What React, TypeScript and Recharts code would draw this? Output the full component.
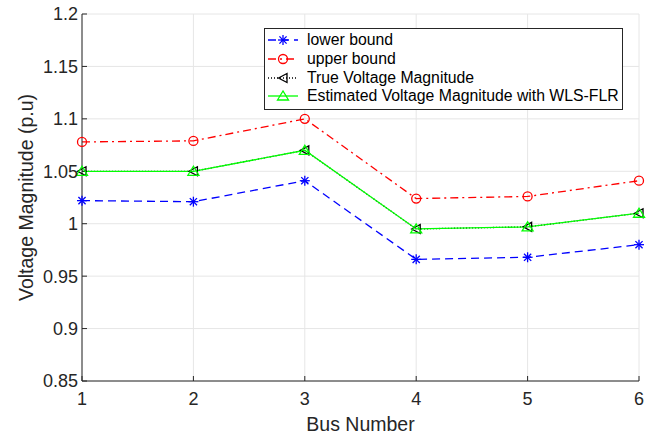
// Voltage magnitude per bus: bounds, true value and WLS-FLR estimate.
import React from "react";
import { CartesianGrid, Legend, Line, LineChart, XAxis, YAxis } from "recharts";

const FONT = "'Liberation Sans', Arial, Helvetica, sans-serif";
const AXIS = "#262626";

const buses = [1, 2, 3, 4, 5, 6];
const lowerBound = [1.022, 1.021, 1.041, 0.966, 0.968, 0.98];
const upperBound = [1.078, 1.079, 1.1, 1.024, 1.026, 1.041];
const trueVm = [1.05, 1.05, 1.07, 0.995, 0.997, 1.01];
const estimatedVm = [1.05, 1.05, 1.07, 0.995, 0.997, 1.01];
const yTicks = [0.85, 0.9, 0.95, 1, 1.05, 1.1, 1.15, 1.2];

const data = buses.map((bus, i) => ({
  bus,
  lower: lowerBound[i],
  upper: upperBound[i],
  truth: trueVm[i],
  est: estimatedVm[i],
}));

type Marker = "star" | "circle" | "left" | "up";

const series: { key: string; name: string; color: string; dash?: string; marker: Marker }[] = [
  { key: "lower", name: "lower bound", color: "#0000ff", dash: "8 5", marker: "star" },
  { key: "upper", name: "upper bound", color: "#ff0000", dash: "8 4 2 4", marker: "circle" },
  { key: "truth", name: "True Voltage Magnitude", color: "#000000", dash: "1 2", marker: "left" },
  { key: "est", name: "Estimated Voltage Magnitude with WLS-FLR", color: "#00ff00", marker: "up" },
];

function markerShape(kind: Marker, cx: number, cy: number, color: string, key?: string) {
  const common = { stroke: color, strokeWidth: 1.3, fill: "none" };
  if (kind === "star") {
    const r = 5, d = 3.6;
    return (
      <g key={key} {...common}>
        <line x1={cx - r} y1={cy} x2={cx + r} y2={cy} />
        <line x1={cx} y1={cy - r} x2={cx} y2={cy + r} />
        <line x1={cx - d} y1={cy - d} x2={cx + d} y2={cy + d} />
        <line x1={cx - d} y1={cy + d} x2={cx + d} y2={cy - d} />
      </g>
    );
  }
  if (kind === "circle") return <circle key={key} cx={cx} cy={cy} r={4.5} {...common} />;
  if (kind === "left")
    return <polygon key={key} points={`${cx - 4.5},${cy} ${cx + 4},${cy - 4.5} ${cx + 4},${cy + 4.5}`} {...common} />;
  return <polygon key={key} points={`${cx},${cy - 5} ${cx - 5.5},${cy + 4} ${cx + 5.5},${cy + 4}`} {...common} />;
}

function LegendBox() {
  return (
    <div
      style={{
        width: 359, border: "1px solid #262626", background: "#fff", fontFamily: FONT,
        fontSize: 15.8, color: "#000", padding: "2px 0 3px 0", boxSizing: "border-box",
      }}
    >
      {series.map((s) => (
        <div key={s.key} style={{ display: "flex", alignItems: "center", height: 18.7 }}>
          <svg width={40} height={18} style={{ flex: "none" }}>
            <line x1={3} y1={9} x2={33} y2={9} stroke={s.color} strokeWidth={1.3} strokeDasharray={s.dash} />
            {markerShape(s.marker, 18, 9, s.color)}
          </svg>
          <span style={{ marginLeft: 2, whiteSpace: "nowrap" }}>{s.name}</span>
        </div>
      ))}
    </div>
  );
}

const tickStyle = { fontSize: 18, fill: AXIS, fontFamily: FONT };

export default function App() {
  return (
    <div style={{ position: "absolute", left: 0, top: 0, width: 654, height: 434, background: "#fff" }}>
      <LineChart width={654} height={434} data={data} margin={{ top: 14, right: 15, left: 20, bottom: 13 }}>
        <CartesianGrid stroke="#e6e6e6" strokeWidth={1} xAxisId="b" yAxisId="l" />
        <XAxis
          xAxisId="b" dataKey="bus" type="number" domain={[1, 6]} ticks={buses} height={40}
          tickSize={-5} tickMargin={16} stroke={AXIS} tick={tickStyle}
          label={{ value: "Bus Number", position: "insideBottom", offset: -10, fontSize: 19.5, fill: AXIS, fontFamily: FONT }}
        />
        <XAxis
          xAxisId="t" orientation="top" dataKey="bus" type="number" domain={[1, 6]} ticks={buses} height={0}
          tickSize={-5} stroke={AXIS} tickFormatter={() => ""}
        />
        <YAxis
          yAxisId="l" type="number" domain={[0.85, 1.2]} ticks={yTicks} width={62} interval={0}
          tickSize={-5} tickMargin={9} stroke={AXIS} tick={tickStyle}
          tickFormatter={(v: number) => String(Math.round(v * 100) / 100)}
          label={{ value: "Voltage Magnitude (p.u)", angle: -90, position: "insideLeft", offset: 6, fontSize: 19.5, fill: AXIS, fontFamily: FONT, style: { textAnchor: "middle" } }}
        />
        <YAxis
          yAxisId="r" orientation="right" type="number" domain={[0.85, 1.2]} ticks={yTicks} width={0} interval={0}
          tickSize={-5} stroke={AXIS} tickFormatter={() => ""}
        />
        <Legend
          layout="vertical" align="center" verticalAlign="middle"
          wrapperStyle={{ position: "absolute", left: 264, top: 28, width: 359 }}
          content={() => <LegendBox />}
        />
        {series.map((s) => (
          <Line
            key={s.key} xAxisId="b" yAxisId="l" dataKey={s.key} name={s.name} type="linear"
            stroke={s.color} strokeWidth={1.3} strokeDasharray={s.dash} isAnimationActive={false}
            dot={(p: any) => markerShape(s.marker, p.cx, p.cy, s.color, `${s.key}-${p.index}`)}
            activeDot={false}
          />
        ))}
      </LineChart>
    </div>
  );
}
